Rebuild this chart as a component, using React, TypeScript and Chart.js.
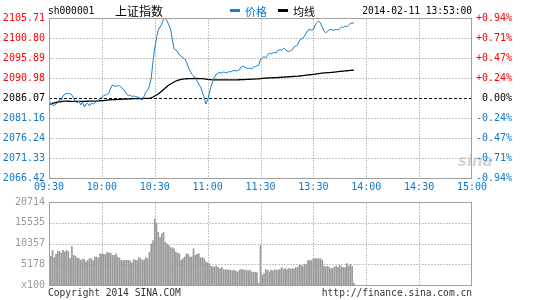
import React, { useEffect, useRef } from "react";
import { Chart, registerables } from "chart.js";

Chart.register(...registerables);

// ---------- data ----------
const BASE_PRICE = 2086.07;
const TIME_TICKS = [0, 30, 60, 90, 120, 150, 180, 210, 240];
const TIME_LABELS = ["09:30", "10:00", "10:30", "11:00", "11:30", "13:30", "14:00", "14:30", "15:00"];
const PRICE_TICKS = [2066.42, 2071.33, 2076.24, 2081.16, 2086.07, 2090.98, 2095.89, 2100.8, 2105.71];
const PCT_LABELS = ["-0.94%", "-0.71%", "-0.47%", "-0.24%", " 0.00%", "+0.24%", "+0.47%", "+0.71%", "+0.94%"];
const VOL_TICKS = [0, 5178, 10357, 15535, 20714];
const VOL_LABELS = ["x100", "5178", "10357", "15535", "20714"];

const PRICE = [
  2085.33, 2084.84, 2084.35, 2084.22, 2084.59, 2084.96, 2085.7, 2085.57, 2086.56, 2087.05,
  2087.17, 2087.05, 2087.17, 2086.8, 2085.94, 2085.33, 2084.84, 2085.33, 2084.35, 2085.08,
  2083.86, 2084.59, 2084.72, 2084.1, 2084.84, 2084.59, 2084.84, 2085.33, 2085.45, 2086.07,
  2086.19, 2086.56, 2086.8, 2086.92, 2087.29, 2088.52, 2089.26, 2089.01, 2088.89, 2089.13,
  2089.01, 2088.77, 2088.27, 2087.78, 2087.05, 2086.68, 2086.8, 2086.43, 2086.56, 2086.43,
  2086.31, 2086.31, 2085.82, 2085.57, 2086.56, 2087.54, 2088.03, 2089.01, 2090.98, 2094.91,
  2098.34, 2100.8, 2102.76, 2103.5, 2104.24, 2105.46, 2105.71, 2104.97, 2103.99, 2103.01,
  2100.31, 2098.1, 2097.85, 2097.36, 2096.62, 2096.38, 2095.89, 2095.64, 2094.91, 2093.68,
  2092.7, 2091.96, 2091.47, 2090.98, 2090.24, 2089.5, 2088.77, 2087.54, 2086.31, 2084.59,
  2085.57, 2087.29, 2089.01, 2090.24, 2091.22, 2091.96, 2092.2, 2092.33, 2092.2, 2092.45,
  2092.33, 2092.2, 2092.57, 2092.45, 2092.7, 2092.82, 2092.7, 2092.82, 2092.94, 2093.68,
  2093.92, 2093.68, 2093.43, 2093.31, 2093.43, 2093.19, 2093.68, 2093.8, 2093.92, 2094.17,
  2095.64, 2095.89, 2096.26, 2095.89, 2096.62, 2097.12, 2096.87, 2097.12, 2097.24, 2097.12,
  2097.85, 2097.97, 2097.85, 2098.22, 2098.1, 2097.61, 2097.48, 2097.61, 2097.85, 2098.59,
  2098.83, 2099.08, 2100.06, 2100.55, 2100.68, 2101.29, 2102.03, 2102.76, 2102.89, 2102.76,
  2102.89, 2103.99, 2104.61, 2104.97, 2104.48, 2103.5, 2102.52, 2102.03, 2102.52, 2102.76,
  2102.89, 2102.76, 2102.76, 2102.89, 2102.76, 2103.13, 2103.5, 2103.38, 2103.75, 2103.5,
  2103.99, 2104.36, 2104.48, 2104.48,
];

const AVG = [
  2084.47, 2084.59, 2084.72, 2084.84, 2084.96, 2085.08, 2085.13, 2085.21, 2085.25, 2085.28,
  2085.28, 2085.27, 2085.26, 2085.26, 2085.25, 2085.25, 2085.24, 2085.24, 2085.25, 2085.25,
  2085.26, 2085.27, 2085.27, 2085.28, 2085.29, 2085.3, 2085.31, 2085.33, 2085.36, 2085.39,
  2085.42, 2085.45, 2085.5, 2085.55, 2085.6, 2085.64, 2085.67, 2085.69, 2085.7, 2085.71,
  2085.72, 2085.75, 2085.78, 2085.8, 2085.82, 2085.84, 2085.86, 2085.88, 2085.89, 2085.9,
  2085.91, 2085.92, 2085.93, 2085.94, 2085.95, 2085.96, 2085.99, 2086.03, 2086.11, 2086.31,
  2086.56, 2086.8, 2087.05, 2087.42, 2087.78, 2088.15, 2088.52, 2088.89, 2089.26, 2089.5,
  2089.75, 2089.99, 2090.24, 2090.41, 2090.53, 2090.66, 2090.72, 2090.76, 2090.79, 2090.81,
  2090.83, 2090.84, 2090.85, 2090.85, 2090.85, 2090.84, 2090.83, 2090.8, 2090.76, 2090.7,
  2090.64, 2090.59, 2090.56, 2090.54, 2090.53, 2090.52, 2090.51, 2090.51, 2090.5, 2090.5,
  2090.5, 2090.5, 2090.5, 2090.51, 2090.51, 2090.52, 2090.53, 2090.54, 2090.55, 2090.56,
  2090.58, 2090.6, 2090.62, 2090.64, 2090.66, 2090.68, 2090.7, 2090.72, 2090.74, 2090.78,
  2090.83, 2090.88, 2090.92, 2090.95, 2090.98, 2091.0, 2091.02, 2091.04, 2091.06, 2091.08,
  2091.1, 2091.13, 2091.16, 2091.19, 2091.22, 2091.25, 2091.28, 2091.31, 2091.34, 2091.37,
  2091.4, 2091.43, 2091.47, 2091.52, 2091.57, 2091.62, 2091.67, 2091.72, 2091.77, 2091.82,
  2091.87, 2091.92, 2091.98, 2092.04, 2092.1, 2092.16, 2092.21, 2092.25, 2092.29, 2092.32,
  2092.35, 2092.39, 2092.44, 2092.49, 2092.54, 2092.59, 2092.63, 2092.68, 2092.72, 2092.76,
  2092.8, 2092.84, 2092.88, 2092.92,
];

const VOLUME = [
  20714, 7151, 8631, 6823, 7645, 8384, 8384, 7973, 8631, 8220,
  8631, 8300, 6658, 9617, 7398, 7151, 6740, 6576, 6165, 6412,
  6412, 5754, 6165, 6576, 6576, 6001, 6987, 6987, 6740, 7809,
  7809, 7645, 7645, 8220, 7973, 7973, 7398, 7398, 7809, 6987,
  6740, 6165, 6001, 6165, 6165, 6165, 6001, 5508, 6330, 6165,
  6165, 6823, 6576, 6165, 6330, 6823, 6576, 8220, 10275, 11097,
  16440, 15453, 13151, 11918, 12741, 13151, 10686, 10275, 9864, 9289,
  9289, 9042, 8220, 7973, 7809, 6165, 6576, 6987, 7809, 7645,
  6987, 6987, 9042, 7398, 7645, 7809, 6823, 6823, 6576, 5754,
  5508, 5343, 4685, 4521, 4521, 4685, 4357, 4110, 4357, 3863,
  3699, 3863, 3699, 3699, 3535, 3699, 3452, 3288, 3699, 3863,
  3863, 3699, 3699, 3535, 3699, 3288, 3124, 3206, 3124, 411,
  9864, 2466, 2877, 3863, 3699, 3288, 3699, 3535, 3863, 3699,
  3699, 3863, 4357, 3863, 4110, 3863, 4110, 4028, 4028, 4028,
  4357, 4357, 4932, 4932, 4685, 5179, 5179, 6165, 6001, 6165,
  6576, 6576, 6576, 6576, 6576, 6165, 4685, 4521, 4685, 4357,
  4110, 4110, 4521, 4685, 4357, 4932, 4521, 4357, 4357, 5343,
  4685, 5179, 4685, 411,
];

// ---------- styles ----------
const MONO = '"DejaVu Sans Mono", "Liberation Mono", monospace';
const CJK = '"Noto Sans CJK SC", sans-serif';
const RED = "#ff0000";
const BLUE = "#0a78d0";
const LINE_BLUE = "#1a80cc";
const GRID = "#c4c4c4";
const FRAME = "#a0a0a0";
const VOL_GRAY = "#9a9a9a";

const W = 545;
const PRICE_H = 192;
const VOL_TOP = 192;
const VOL_H = 108;

const tickColor = (v: number) =>
  Math.abs(v - BASE_PRICE) < 0.005 ? "#000" : v > BASE_PRICE ? RED : BLUE;

function drawGrid(chart: any, yTicks: number[], skipBase: boolean) {
  const ctx = chart.ctx;
  const area = chart.chartArea;
  const xs = chart.scales.x;
  const ys = chart.scales.y;
  ctx.save();
  ctx.strokeStyle = GRID;
  ctx.lineWidth = 1;
  ctx.setLineDash([2, 1]);
  for (let i = 1; i < TIME_TICKS.length - 1; i++) {
    const x = Math.round(xs.getPixelForValue(TIME_TICKS[i])) + 0.5;
    ctx.beginPath();
    ctx.moveTo(x, area.top + 1);
    ctx.lineTo(x, area.bottom);
    ctx.stroke();
  }
  for (let i = 1; i < yTicks.length - 1; i++) {
    const v = yTicks[i];
    if (skipBase && Math.abs(v - BASE_PRICE) < 0.005) continue;
    const y = Math.round(ys.getPixelForValue(v)) + 0.5;
    ctx.beginPath();
    ctx.moveTo(area.left + 1, y);
    ctx.lineTo(area.right - 1, y);
    ctx.stroke();
  }
  ctx.restore();
}

function drawFrame(chart: any) {
  const { ctx, chartArea } = chart;
  const l = Math.round(chartArea.left);
  const t = Math.round(chartArea.top);
  const r = Math.round(chartArea.right);
  const b = Math.round(chartArea.bottom);
  ctx.save();
  ctx.strokeStyle = FRAME;
  ctx.lineWidth = 1;
  ctx.setLineDash([]);
  ctx.strokeRect(l + 0.5, t + 0.5, r - l - 1, b - t);
  ctx.restore();
}

const pricePlugin = {
  id: "priceDecor",
  beforeDraw(chart: any) {
    const { ctx, chartArea } = chart;
    ctx.save();
    ctx.fillStyle = "#d6d6d6";
    ctx.font = 'italic bold 15px "DejaVu Sans", sans-serif';
    ctx.textBaseline = "alphabetic";
    ctx.fillText("sina", chartArea.right - 14, chartArea.bottom - 12);
    ctx.restore();
  },
  beforeDatasetsDraw(chart: any) {
    drawGrid(chart, PRICE_TICKS, true);
    const { ctx, chartArea, scales } = chart;
    const y = Math.round(scales.y.getPixelForValue(BASE_PRICE)) + 0.5;
    ctx.save();
    ctx.strokeStyle = "#000";
    ctx.lineWidth = 1;
    ctx.setLineDash([3, 2]);
    ctx.beginPath();
    ctx.moveTo(chartArea.left, y);
    ctx.lineTo(chartArea.right, y);
    ctx.stroke();
    ctx.restore();
  },
  afterDraw(chart: any) {
    drawFrame(chart);
  },
};

const volPlugin = {
  id: "volDecor",
  beforeDatasetsDraw(chart: any) {
    drawGrid(chart, VOL_TICKS, false);
  },
  afterDraw(chart: any) {
    drawFrame(chart);
  },
};

export default function App() {
  const priceRef = useRef<HTMLCanvasElement | null>(null);
  const volRef = useRef<HTMLCanvasElement | null>(null);

  useEffect(() => {
    const priceChart = new Chart(priceRef.current as HTMLCanvasElement, {
      type: "line",
      data: {
        datasets: [
          {
            data: PRICE.map((v, i) => ({ x: i, y: v })),
            borderColor: LINE_BLUE,
            borderWidth: 1,
            pointRadius: 0,
            tension: 0,
            yAxisID: "y",
          },
          {
            data: AVG.map((v, i) => ({ x: i, y: v })),
            borderColor: "#000",
            borderWidth: 1.3,
            pointRadius: 0,
            tension: 0,
            yAxisID: "y",
          },
        ],
      },
      options: {
        animation: false,
        responsive: false,
        events: [],
        layout: { padding: { top: 18, left: 0, right: 0, bottom: 0 } },
        plugins: { legend: { display: false }, tooltip: { enabled: false } },
        scales: {
          x: {
            type: "linear",
            min: 0,
            max: 240,
            offset: false,
            afterBuildTicks: (s: any) => {
              s.ticks = TIME_TICKS.map((v) => ({ value: v }));
            },
            afterFit: (s: any) => {
              s.height = 14;
            },
            ticks: {
              callback: (_v: any, i: number) => TIME_LABELS[i],
              color: BLUE,
              font: { family: MONO, size: 10 },
              padding: 3,
              maxRotation: 0,
              autoSkip: false,
            },
            grid: { display: false, drawTicks: false, offset: false },
            border: { display: false },
          },
          y: {
            position: "left",
            min: PRICE_TICKS[0],
            max: PRICE_TICKS[PRICE_TICKS.length - 1],
            afterBuildTicks: (s: any) => {
              s.ticks = PRICE_TICKS.map((v) => ({ value: v }));
            },
            afterFit: (s: any) => {
              s.width = 49;
            },
            ticks: {
              callback: (_v: any, i: number) => PRICE_TICKS[i].toFixed(2),
              color: (c: any) => tickColor(c.tick.value),
              font: { family: MONO, size: 10 },
              padding: 4,
              autoSkip: false,
            },
            grid: { display: false, drawTicks: false },
            border: { display: false },
          },
          y2: {
            position: "right",
            min: PRICE_TICKS[0],
            max: PRICE_TICKS[PRICE_TICKS.length - 1],
            afterBuildTicks: (s: any) => {
              s.ticks = PRICE_TICKS.map((v) => ({ value: v }));
            },
            afterFit: (s: any) => {
              s.width = 73;
            },
            ticks: {
              callback: (_v: any, i: number) => PCT_LABELS[i],
              color: (c: any) => tickColor(c.tick.value),
              font: { family: MONO, size: 10 },
              padding: 4,
              autoSkip: false,
            },
            grid: { display: false, drawTicks: false },
            border: { display: false },
          },
        },
      } as any,
      plugins: [pricePlugin],
    } as any);

    const volChart = new Chart(volRef.current as HTMLCanvasElement, {
      type: "bar",
      data: {
        datasets: [
          {
            data: VOLUME.map((v, i) => ({ x: i, y: v })),
            backgroundColor: VOL_GRAY,
            borderWidth: 0,
            barThickness: 1,
          },
        ],
      },
      options: {
        animation: false,
        responsive: false,
        events: [],
        layout: { padding: { top: 9, left: 0, right: 73, bottom: 15 } },
        plugins: { legend: { display: false }, tooltip: { enabled: false } },
        scales: {
          x: {
            type: "linear",
            min: 0,
            max: 240,
            offset: false,
            afterBuildTicks: (s: any) => {
              s.ticks = TIME_TICKS.map((v) => ({ value: v }));
            },
            afterFit: (s: any) => {
              s.height = 0;
            },
            ticks: { display: false },
            grid: { display: false, drawTicks: false, offset: false },
            border: { display: false },
          },
          y: {
            position: "left",
            min: 0,
            max: VOL_TICKS[VOL_TICKS.length - 1],
            afterBuildTicks: (s: any) => {
              s.ticks = VOL_TICKS.map((v) => ({ value: v }));
            },
            afterFit: (s: any) => {
              s.width = 49;
            },
            ticks: {
              callback: (_v: any, i: number) => VOL_LABELS[i],
              color: "#999",
              font: { family: MONO, size: 10 },
              padding: 4,
              autoSkip: false,
            },
            grid: { display: false, drawTicks: false },
            border: { display: false },
          },
        },
      } as any,
      plugins: [volPlugin],
    } as any);

    return () => {
      priceChart.destroy();
      volChart.destroy();
    };
  }, []);

  const mono = (size: number): React.CSSProperties => ({
    position: "absolute",
    fontFamily: MONO,
    fontSize: size,
    lineHeight: "12px",
    whiteSpace: "pre",
  });

  return (
    <div style={{ position: "absolute", left: 0, top: 0, width: W, height: 300, background: "#fff", overflow: "hidden" }}>
      <canvas
        ref={priceRef}
        width={W}
        height={PRICE_H}
        style={{ position: "absolute", left: 0, top: 0, width: W, height: PRICE_H }}
      />
      <canvas
        ref={volRef}
        width={W}
        height={VOL_H}
        style={{ position: "absolute", left: 0, top: VOL_TOP, width: W, height: VOL_H }}
      />
      <div style={{ ...mono(9.6), left: 48, top: 5, color: "#000" }}>sh000001</div>
      <div style={{ position: "absolute", left: 115, top: 3, fontFamily: CJK, fontSize: 12, lineHeight: "16px", color: "#000" }}>
        上证指数
      </div>
      <div style={{ position: "absolute", left: 230, top: 9, width: 10, height: 3, background: LINE_BLUE }} />
      <div style={{ position: "absolute", left: 245, top: 4, fontFamily: CJK, fontSize: 11, lineHeight: "15px", color: BLUE }}>
        价格
      </div>
      <div style={{ position: "absolute", left: 278, top: 9, width: 10, height: 3, background: "#000" }} />
      <div style={{ position: "absolute", left: 293, top: 4, fontFamily: CJK, fontSize: 11, lineHeight: "15px", color: "#000" }}>
        均线
      </div>
      <div style={{ ...mono(9.6), left: 0, width: 472, top: 5, textAlign: "right", color: "#000" }}>
        2014-02-11 13:53:00
      </div>
      <div style={{ ...mono(9.6), left: 48, top: 287, color: "#333" }}>Copyright 2014 SINA.COM</div>
      <div style={{ ...mono(9.6), left: 0, width: 472, top: 287, textAlign: "right", color: "#333" }}>
        http://finance.sina.com.cn
      </div>
    </div>
  );
}
